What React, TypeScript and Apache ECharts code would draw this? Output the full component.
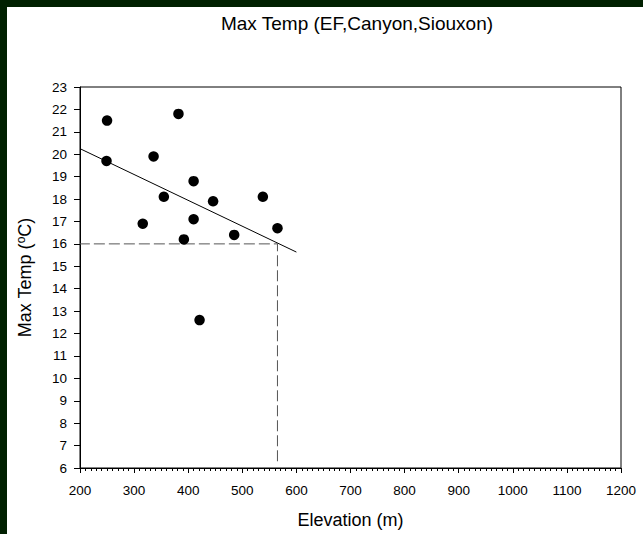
import React, { useEffect, useRef } from "react";
import * as echarts from "echarts";

const elevation = [250, 249, 382, 336, 355, 316, 410, 410, 392, 446, 485, 538, 565, 421];
const maxTemp = [21.5, 19.7, 21.8, 19.9, 18.1, 16.9, 18.8, 17.1, 16.2, 17.9, 16.4, 18.1, 16.7, 12.6];
const fitRange = [200, 600];
const thresholdTemp = 16;
const thresholdElev = 565;
const xTicks = [200, 1200, 100];
const yTicks = [6, 23, 1];

const FONT = "Liberation Sans, Arial, sans-serif";

function fit(xs: number[], ys: number[]) {
  const n = xs.length;
  const mx = xs.reduce((a, b) => a + b, 0) / n;
  const my = ys.reduce((a, b) => a + b, 0) / n;
  let sxy = 0, sxx = 0;
  for (let i = 0; i < n; i++) {
    sxy += (xs[i] - mx) * (ys[i] - my);
    sxx += (xs[i] - mx) * (xs[i] - mx);
  }
  const b = sxy / sxx;
  return (x: number) => my + b * (x - mx);
}

export default function App() {
  const ref = useRef<HTMLDivElement>(null);
  useEffect(() => {
    if (!ref.current) return;
    const chart = echarts.init(ref.current, null, { renderer: "svg" });
    const f = fit(elevation, maxTemp);
    chart.setOption({
      animation: false,
      backgroundColor: "#ffffff",
      textStyle: { fontFamily: FONT },
      title: {
        text: "Max Temp (EF,Canyon,Siouxon)",
        left: 345,
        top: 2,
        textAlign: "center",
        textStyle: { fontFamily: FONT, fontSize: 19, fontWeight: "normal", color: "#000" },
      },
      grid: {
        left: 69, right: 22, top: 80, bottom: 64,
        show: true, borderColor: "#000", borderWidth: 1, backgroundColor: "#fff",
      },
      xAxis: {
        type: "value",
        min: xTicks[0], max: xTicks[1], interval: xTicks[2],
        name: "Elevation (m)",
        nameLocation: "middle",
        nameGap: 43,
        nameTextStyle: { fontFamily: FONT, fontSize: 18, color: "#000" },
        axisLine: { show: true, lineStyle: { color: "#000", width: 1 } },
        axisTick: { show: true, length: 5, lineStyle: { color: "#000" } },
        minorTick: { show: true, splitNumber: 10, length: 3, lineStyle: { color: "#000" } },
        axisLabel: { fontFamily: FONT, fontSize: 13.5, color: "#000", margin: 15, formatter: (v: number) => String(v) },
        splitLine: { show: false },
      },
      yAxis: {
        type: "value",
        min: yTicks[0], max: yTicks[1], interval: yTicks[2],
        name: "{n|Max Temp (}{s|o}{n|C)}",
        nameLocation: "middle",
        nameGap: 45,
        nameTextStyle: {
          rich: {
            n: { fontFamily: FONT, fontSize: 18, color: "#000" },
            s: { fontFamily: FONT, fontSize: 12, color: "#000", verticalAlign: "top", padding: [0, 0, 8, 0] },
          },
        },
        axisLine: { show: true, lineStyle: { color: "#000", width: 1 } },
        axisTick: { show: true, length: 6, lineStyle: { color: "#000" } },
        axisLabel: { fontFamily: FONT, fontSize: 13.5, color: "#000", margin: 13 },
        splitLine: { show: false },
      },
      series: [
        {
          type: "line",
          data: [
            [thresholdElev, yTicks[0] + 0.3],
            [thresholdElev, thresholdTemp],
            [xTicks[0], thresholdTemp],
          ],
          symbol: "none",
          lineStyle: { color: "#555", width: 1, type: [11, 4] },
          z: 1,
        },
        {
          type: "line",
          data: fitRange.map((x) => [x, f(x)]),
          symbol: "none",
          lineStyle: { color: "#000", width: 1 },
          z: 2,
        },
        {
          type: "scatter",
          data: elevation.map((x, i) => [x, maxTemp[i]]),
          symbol: "circle",
          symbolSize: 10.5,
          itemStyle: { color: "#000", opacity: 1 },
          z: 3,
        },
      ],
    });
    return () => chart.dispose();
  }, []);
  return (
    <div style={{ position: "fixed", left: 0, top: 0, width: 643, height: 534, background: "#002000" }}>
      <div ref={ref} style={{ position: "absolute", left: 7, top: 7, width: 636, height: 527 }} />
    </div>
  );
}
